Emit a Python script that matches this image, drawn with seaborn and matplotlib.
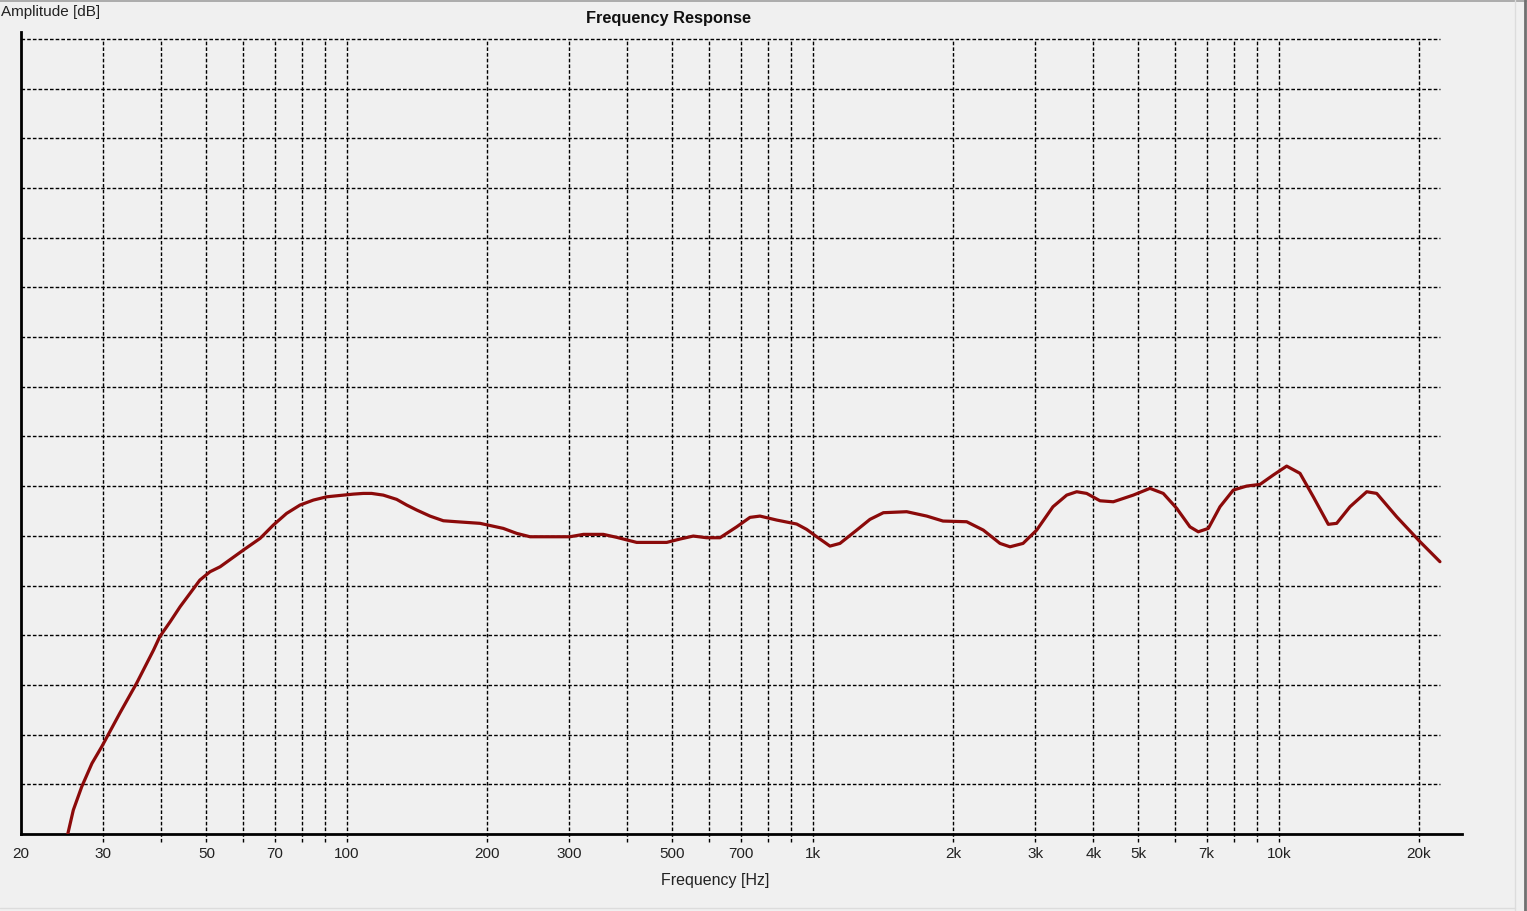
import numpy as np
import pandas as pd
import matplotlib
matplotlib.use("Agg")
import matplotlib.pyplot as plt
import seaborn as sns
from matplotlib.lines import Line2D

# ---- data ----
freq_hz = [25.2, 25.9, 27.0, 28.4, 29.8, 32.6, 35.4, 38.5, 39.7, 41.8, 43.9, 48.4,
           50.9, 53.5, 60.0, 65.2, 69.6, 74.3, 79.4, 84.8, 90.6, 103.3, 108.5,
           113.1, 119.8, 128.0, 134.5, 141.3, 150.9, 161.2, 172.2, 193.2, 216.8,
           231.6, 247.4, 273.1, 301.3, 322, 355.3, 379.6, 419.1, 486, 519, 554.3,
           592.1, 632.4, 686.9, 733.5, 770.7, 836.9, 923.9, 970.6, 1019.8, 1089,
           1144, 1243, 1327, 1418, 1591, 1757, 1904, 2140, 2323, 2523, 2651, 2827,
           3024, 3278, 3508, 3686, 3872, 4135, 4416, 4874, 5293, 5653, 6040, 6449,
           6720, 7063, 7482, 7991, 8535, 9118, 9734, 10401, 11110, 11864, 12776,
           13317, 14222, 15448, 16229, 17913, 20103, 22182]
amp_db = [0.0, 2.41, 4.76, 7.11, 8.78, 12.17, 15.16, 18.51, 19.85, 21.36, 22.87,
          25.55, 26.39, 26.89, 28.57, 29.75, 31.09, 32.26, 33.10, 33.6, 33.93, 34.2,
          34.27, 34.27, 34.1, 33.67, 33.1, 32.6, 31.99, 31.52, 31.42, 31.26, 30.75,
          30.25, 29.91, 29.91, 29.91, 30.15, 30.15, 29.85, 29.34, 29.34, 29.68,
          29.98, 29.81, 29.81, 30.91, 31.86, 31.99, 31.59, 31.19, 30.65, 29.91,
          28.97, 29.24, 30.58, 31.66, 32.33, 32.43, 31.99, 31.49, 31.42, 30.58,
          29.24, 28.9, 29.24, 30.58, 32.93, 34.1, 34.44, 34.27, 33.53, 33.43, 34.1,
          34.78, 34.27, 32.77, 30.91, 30.41, 30.75, 32.93, 34.61, 35.01, 35.18,
          36.12, 37.02, 36.29, 33.93, 31.16, 31.26, 32.93, 34.44, 34.27, 31.92,
          29.41, 27.4]

grid_freqs = [30, 40, 50, 60, 70, 80, 90, 100, 200, 300, 400, 500, 600, 700, 800,
              900, 1000, 2000, 3000, 4000, 5000, 6000, 7000, 8000, 9000, 10000, 20000]
tick_freqs = [20, 30, 50, 70, 100, 200, 300, 500, 700, 1000, 2000, 3000, 4000,
              5000, 7000, 10000, 20000]
tick_labels = ["20", "30", "50", "70", "100", "200", "300", "500", "700", "1k",
               "2k", "3k", "4k", "5k", "7k", "10k", "20k"]
grid_levels = [5, 10, 15, 20, 25, 30, 35, 40, 45, 50, 55, 60, 65, 70, 75, 80]

df = pd.DataFrame({"Frequency": freq_hz, "Amplitude": amp_db})

sns.set_theme(style="white")
plt.rcParams["font.family"] = ["Liberation Sans", "DejaVu Sans"]

BG = "#f0f0f0"
fig = plt.figure(figsize=(15.27, 9.11), dpi=100, facecolor=BG)
ax = fig.add_axes([21 / 1527, 1 - 834 / 911, (1462 - 21) / 1527, (834 - 32) / 911])
ax.set_facecolor(BG)

ax.set_xscale("log")
ax.set_xlim(20, 24736)
ax.set_ylim(0, 80.7)

dash = (0, (2.6, 1.5))
# horizontal grid lines (end at the data end, not at the axis end)
ax.hlines(grid_levels, 20, 22200, colors="#000000", linewidth=1.0, linestyles=dash, zorder=1)
# vertical grid lines, extending slightly below the axis like ticks
ax.vlines(grid_freqs, -0.85, 80, colors="#000000", linewidth=1.0, linestyles=dash,
          zorder=1, clip_on=False)

sns.lineplot(data=df, x="Frequency", y="Amplitude", ax=ax, color="#8b0a0a",
             linewidth=2.3, sort=False, zorder=3)

ax.set_xticks(tick_freqs)
ax.set_xticklabels(tick_labels)
ax.xaxis.set_minor_locator(matplotlib.ticker.NullLocator())
ax.tick_params(axis="x", length=0, pad=9, labelsize=11, colors="#222222")
ax.set_yticks([])
ax.set_ylabel("")

for s in ["top", "right"]:
    ax.spines[s].set_visible(False)
for s in ["left", "bottom"]:
    ax.spines[s].set_color("black")
    ax.spines[s].set_linewidth(2.0)

ax.set_xlabel("Frequency [Hz]", fontsize=11.5, color="#222222")
ax.xaxis.set_label_coords((715 - 21) / (1462 - 21), -0.049)

fig.text(668 / 1527, 1 - 19 / 911, "Frequency Response", ha="center", va="center",
         fontsize=11.8, fontweight="bold", color="#111111")
fig.text(1 / 1527, 1 - 12 / 911, "Amplitude [dB]", ha="left", va="center",
         fontsize=11, color="#222222")

# window frame edges
fig.add_artist(Line2D([0, 1], [1 - 1 / 911, 1 - 1 / 911], transform=fig.transFigure,
                      color="#a0a0a0", linewidth=1.2))
fig.add_artist(Line2D([1515 / 1527, 1515 / 1527], [0, 1], transform=fig.transFigure,
                      color="#dcdcdc", linewidth=1.0))
fig.add_artist(Line2D([1525 / 1527, 1525 / 1527], [0, 1], transform=fig.transFigure,
                      color="#707070", linewidth=2.0))
fig.add_artist(Line2D([0, 1515 / 1527], [3 / 911, 3 / 911], transform=fig.transFigure,
                      color="#dcdcdc", linewidth=1.0))

fig.savefig("out.png", dpi=100, facecolor=BG)
